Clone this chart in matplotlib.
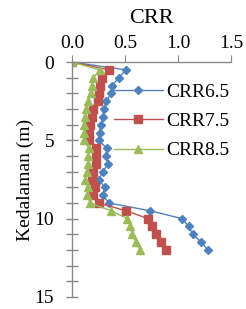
import matplotlib
matplotlib.use("Agg")
import matplotlib.pyplot as plt
import numpy as np

depth = [0, 0.5, 1.0, 1.5, 2.0, 2.5, 3.0, 3.5, 4.0, 4.5, 5.0, 5.5, 6.0, 6.5,
         7.0, 7.5, 8.0, 8.5, 9.0, 9.5, 10.0, 10.5, 11.0, 11.5, 12.0]
crr65 = [0.0, 0.51, 0.44, 0.38, 0.37, 0.32, 0.30, 0.29, 0.27, 0.26, 0.25, 0.33,
         0.32, 0.34, 0.29, 0.25, 0.31, 0.29, 0.35, 0.74, 1.04, 1.10, 1.14, 1.22, 1.28]
crr75 = [0.0, 0.35, 0.28, 0.26, 0.25, 0.24, 0.20, 0.19, 0.17, 0.16, 0.16, 0.23,
         0.23, 0.23, 0.20, 0.19, 0.22, 0.20, 0.25, 0.51, 0.72, 0.75, 0.79, 0.84, 0.89]
crr85 = [0.0, 0.26, 0.20, 0.19, 0.18, 0.15, 0.13, 0.12, 0.11, 0.11, 0.11, 0.16,
         0.15, 0.15, 0.14, 0.12, 0.15, 0.14, 0.17, 0.37, 0.52, 0.55, 0.57, 0.60, 0.64]
labels = ["CRR6.5", "CRR7.5", "CRR8.5"]
xticks = [0.0, 0.5, 1.0, 1.5]
yticks = [0, 5, 10, 15]

plt.rcParams['font.family'] = ['Liberation Serif', 'DejaVu Serif']

fig = plt.figure(figsize=(2.46, 3.09), dpi=100)
ax = fig.add_axes([0.293, 0.039, 0.646, 0.760])

ax.plot(crr65, depth, color='#4F81BD', marker='D', markersize=4.2, lw=1.0, label=labels[0])
ax.plot(crr75, depth, color='#C0504D', marker='s', markersize=5.8, lw=1.0, label=labels[1])
ax.plot(crr85, depth, color='#9BBB59', marker='^', markersize=6.0, lw=1.0, label=labels[2])

ax.set_xlim(0, 1.5)
ax.set_ylim(15, 0)
ax.xaxis.tick_top()
ax.xaxis.set_label_position('top')
ax.set_xticks(xticks)
ax.set_xticklabels([f"{v:.1f}" for v in xticks])
ax.set_yticks(yticks)
ax.set_yticks(np.arange(0, 16, 1), minor=True)
ax.set_xlabel("CRR", fontsize=16, labelpad=9)
ax.set_ylabel("Kedalaman (m)", fontsize=14, labelpad=0)

for s in ['right', 'bottom']:
    ax.spines[s].set_visible(False)
for s in ['top', 'left']:
    ax.spines[s].set_color('#888888')
    ax.spines[s].set_linewidth(1.0)

ax.tick_params(axis='x', which='major', direction='out', length=5, color='#888888',
               labelsize=14, pad=2)
ax.tick_params(axis='y', which='both', direction='inout', length=8, color='#888888',
               labelsize=14, pad=9, width=1.0)

leg = ax.legend(loc='upper left', bbox_to_anchor=(0.215, 0.943), frameon=False,
                fontsize=14, handlelength=2.5, handletextpad=0.2, labelspacing=0.6,
                borderaxespad=0)

fig.savefig("out.png", dpi=100)
